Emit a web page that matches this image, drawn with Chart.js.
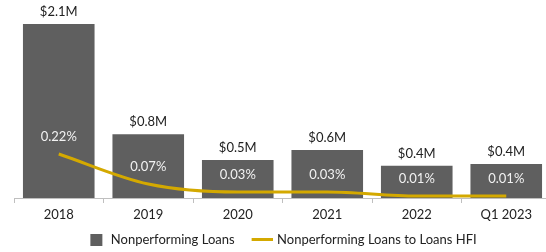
<!DOCTYPE html>
<html>
<head>
<meta charset="utf-8">
<script src="https://cdn.jsdelivr.net/npm/chart.js@4.4.0/dist/chart.umd.min.js"></script>
<style>
  html, body { margin: 0; padding: 0; background: #fff; overflow: hidden; }
  #wrap { width: 552px; height: 252px; }
</style>
</head>
<body>
<div id="wrap"><canvas id="npl"></canvas></div>
<script>
// data
const periods = ['2018', '2019', '2020', '2021', '2022', 'Q1 2023'];
const nplMillions = [2.1, 0.77, 0.46, 0.58, 0.39, 0.41];
const nplToHfiPct = [0.22, 0.07, 0.03, 0.03, 0.01, 0.01];

const barColor = '#5f5f5f';
const lineColor = '#d4a900';
const fontFamily = 'Lato, "Open Sans", sans-serif';

// small images for the legend markers
const makeMarker = (w, h, draw) => {
  const c = document.createElement('canvas');
  c.width = w; c.height = h;
  draw(c.getContext('2d'));
  return c;
};
const barMarker = makeMarker(24, 12, g => { g.fillStyle = barColor; g.fillRect(10, 0, 12, 12); });
const lineMarker = makeMarker(28, 3, g => { g.fillStyle = lineColor; g.fillRect(7, 0, 21, 3); });

// value labels: $ above bars, % above line points
const valueLabels = {
  id: 'valueLabels',
  afterLayout(chart) {
    // legend sits a little left of centre in the original
    chart.legend.left -= 4;
    chart.legend.right -= 4;
  },
  afterDatasetsDraw(chart) {
    const ctx = chart.ctx;
    ctx.save();
    ctx.font = '13px ' + fontFamily;
    ctx.textAlign = 'center';
    ctx.textBaseline = 'middle';

    const bars = chart.getDatasetMeta(1).data;
    bars.forEach((bar, i) => {
      ctx.fillStyle = '#222';
      ctx.fillText('$' + nplMillions[i].toFixed(1) + 'M', bar.x, bar.y - 12);
    });

    const pts = chart.getDatasetMeta(0).data;
    pts.forEach((pt, i) => {
      ctx.fillStyle = '#f2f2f2';
      ctx.fillText(nplToHfiPct[i].toFixed(2) + '%', pt.x, pt.y - 17);
    });
    ctx.restore();
  }
};

const ctx = document.getElementById('npl').getContext('2d');
const nplChart = new Chart(ctx, {
  type: 'bar',
  data: {
    labels: periods,
    datasets: [{
      type: 'line',
      label: 'Nonperforming Loans to Loans HFI',
      data: nplToHfiPct,
      yAxisID: 'y1',
      borderColor: lineColor,
      backgroundColor: lineColor,
      borderWidth: 3,
      pointRadius: 0,
      cubicInterpolationMode: 'monotone',
      pointStyle: lineMarker,
      order: 0,
    }, {
      label: 'Nonperforming Loans',
      data: nplMillions,
      yAxisID: 'y',
      backgroundColor: barColor,
      barPercentage: 0.8,
      categoryPercentage: 1,
      pointStyle: barMarker,
      order: 1,
    }],
  },
  options: {
    responsive: true,
    maintainAspectRatio: false,
    animation: false,
    layout: {
      padding: { top: 24, left: 14, right: 1, bottom: -4 },
    },
    plugins: {
      tooltip: { enabled: false },
      legend: {
        position: 'bottom',
        reverse: true,
        labels: {
          usePointStyle: true,
          pointStyleWidth: 24,
          padding: 12,
          color: '#222',
          font: { family: fontFamily, size: 13 },
        },
      },
    },
    scales: {
      x: {
        afterFit: s => { s.height = 23; },
        grid: {
          display: true,
          drawOnChartArea: false,
          drawTicks: true,
          tickLength: 5,
          color: '#bfbfbf',
        },
        border: { display: true, color: '#bfbfbf' },
        ticks: {
          color: '#222',
          padding: 4,
          font: { family: fontFamily, size: 13 },
        },
      },
      y: {
        display: false,
        min: 0,
        max: 2.1,
      },
      y1: {
        display: false,
        min: 0,
        max: 0.87,
      },
    },
  },
  plugins: [valueLabels],
});
</script>
</body>
</html>
